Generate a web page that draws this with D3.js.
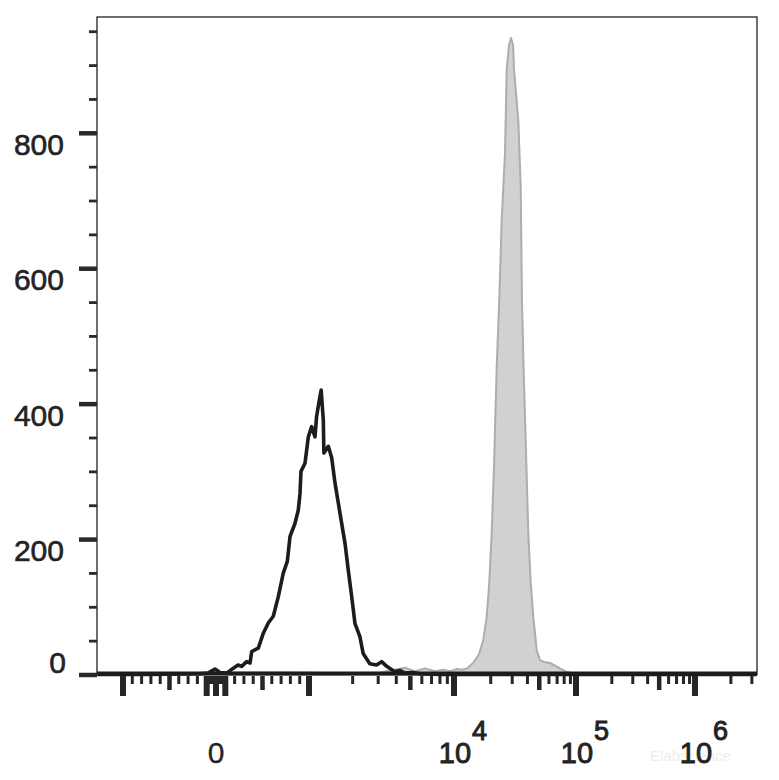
<!DOCTYPE html>
<html>
<head>
<meta charset="utf-8">
<script src="https://cdn.jsdelivr.net/npm/d3@7"></script>
<style>
  html, body { margin: 0; padding: 0; background: #ffffff; }
  svg { display: block; font-family: "Liberation Sans", Arial, sans-serif; }
</style>
</head>
<body>
<svg id="chart" width="779" height="780"></svg>
<script>
// ---------------- data ----------------
// Filled grey histogram: fluorescence intensity vs. count
const grayIntensity = [97, 473, 903, 1640, 3090, 4590, 5380, 6310, 7400, 8400, 9380, 10590, 11640, 12790, 14320, 15140, 16110, 17380, 18530, 19450, 20370, 21270, 22390, 23500, 24600, 26180, 27040, 28250, 29310, 30480, 31050, 33650, 35240, 36060, 37150, 38900, 40640, 42560, 44670, 47640, 50700, 55720, 61240, 67300, 73960, 83950, 92690, 108400];
const grayCount = [3, 3, 3, 2, 3, 10, 5, 9, 5, 7, 5, 8, 7, 9, 17, 23, 31, 51, 85, 135, 209, 307, 455, 553, 671, 770, 893, 930, 940, 930, 893, 819, 720, 553, 455, 332, 209, 135, 85, 36, 21, 18, 17, 13, 9, 4, 2, 0];

// Black outline histogram (control)
const blackIntensity = [-1500, -710, -172, -86, -11, 43, 115, 183, 237, 276, 330, 366, 384, 455, 509, 562, 616, 670, 724, 767, 796, 849, 885, 903, 914, 957, 993, 1043, 1100, 1128, 1167, 1213, 1255, 1267, 1359, 1434, 1511, 1636, 1771, 1866, 1970, 2076, 2244, 2363, 2627, 2920, 3170, 3434, 3910, 4230, 4580, 5200, 5800, 7940, 3300000];
const blackCount = [0, 0, 1, 2, 8, 3, 2, 9, 14, 12, 19, 17, 34, 39, 61, 76, 86, 115, 150, 167, 204, 223, 243, 267, 300, 312, 351, 366, 351, 381, 400, 420, 376, 327, 337, 320, 283, 238, 194, 154, 115, 75, 56, 31, 16, 14, 19, 12, 4, 6, 2, 3, 1, 0, 0];

// Axis ticks
const yMajorTicks = [0, 200, 400, 600, 800];
const yMinorTicks = [50, 100, 150, 250, 300, 350, 450, 500, 550, 650, 700, 750, 850, 900, 950];
const yTickLabels = ["0", "200", "400", "600", "800"];

const xMajorTicks = [-1000, -100, 0, 100, 1000, 10000, 100000, 1000000];
const xMediumTicks = [-500, 500, 5000, 50000, 500000];
const xMinorTicks = [-900, -800, -700, -600, -400, -300, -200,
  -90, -80, -70, -60, -50, -40, -30, -20, -10, 10, 20, 30, 40, 50, 60, 70, 80, 90,
  200, 300, 400, 600, 700, 800, 900,
  2000, 3000, 4000, 6000, 7000, 8000, 9000,
  20000, 30000, 40000, 60000, 70000, 80000, 90000,
  200000, 300000, 400000, 600000, 700000, 800000, 900000,
  2000000, 3000000];
const xLabelValues = [0, 10000, 100000, 1000000];
const xLabelBase = ["0", "10", "10", "10"];
const xLabelExp = ["", "4", "5", "6"];

// ---------------- layout ----------------
const svg = d3.select("#chart");
const L = 97, R = 757, T0 = 17, B = 674.5;
const textColor = "#232323";

// biexponential-like display transform: linear within ±1000, log outside
const LIN = 1000;
function biex(v) {
  const a = Math.abs(v);
  return a <= LIN ? v / LIN : Math.sign(v) * (1 + Math.log10(a / LIN));
}
// display units -> pixels (decades are not all drawn with the same width)
const x = d3.scaleLinear()
  .domain([-1.18, -1, 0, 1, 2, 3, 4, 4.52])
  .range([L, L + 26, L + 119, L + 212, L + 357, L + 479, L + 598, R]);
const xp = v => x(biex(v));

const y = d3.scaleLinear().domain([0, 971]).range([B, T0]);

// ---------------- histograms ----------------
const grayData = grayIntensity.map((v, i) => ({ v, c: grayCount[i] }));
const blackData = blackIntensity.map((v, i) => ({ v, c: blackCount[i] }));

const area = d3.area().x(d => xp(d.v)).y0(y(0)).y1(d => y(d.c));
svg.append("path").datum(grayData)
  .attr("d", area)
  .attr("fill", "#d1d1d1")
  .attr("stroke", "#adadad")
  .attr("stroke-width", 2)
  .attr("stroke-linejoin", "round");

// frame
svg.append("rect")
  .attr("x", L).attr("y", T0)
  .attr("width", R - L).attr("height", B - T0)
  .attr("fill", "none").attr("stroke", "#222").attr("stroke-width", 1.3);

const line = d3.line().x(d => xp(d.v)).y(d => y(d.c));
svg.append("path").datum(blackData)
  .attr("d", line)
  .attr("fill", "none")
  .attr("stroke", "#1c1c1c")
  .attr("stroke-width", 3.6)
  .attr("stroke-linejoin", "round");

// bottom axis line (thick)
svg.append("line")
  .attr("x1", L).attr("x2", R)
  .attr("y1", y(0) - 1).attr("y2", y(0) - 1)
  .attr("stroke", "#1c1c1c").attr("stroke-width", 4);

// ---------------- y axis ----------------
function yAxisTicks(vals, size, width) {
  const g = svg.append("g").attr("transform", `translate(${L},0)`)
    .call(d3.axisLeft(y).tickValues(vals).tickSize(size).tickFormat(""));
  g.select(".domain").remove();
  g.selectAll("line").attr("stroke", "#2a2a2a").attr("stroke-width", width);
}
yAxisTicks(yMinorTicks, 8, 2.8);
yAxisTicks(yMajorTicks, 18, 4.5);

svg.append("g").selectAll("text").data(yMajorTicks).join("text")
  .attr("x", (d, i) => i === 0 ? 66 : 64)
  .attr("y", d => d === 0 ? y(d) - 1.5 : y(d) + 22)
  .attr("text-anchor", "end")
  .attr("fill", textColor)
  .attr("stroke", textColor).attr("stroke-width", 0.6)
  .attr("font-size", 30)
  .text((d, i) => yTickLabels[i]);

// ---------------- x axis ----------------
const tickTop = 676;
function xTicks(vals, len, width) {
  svg.append("g").selectAll("line").data(vals).join("line")
    .attr("x1", d => xp(d)).attr("x2", d => xp(d))
    .attr("y1", tickTop).attr("y2", tickTop + len)
    .attr("stroke", "#262626").attr("stroke-width", width);
}
xTicks(xMinorTicks, 8, 3);
xTicks(xMediumTicks, 14, 4.5);
xTicks(xMajorTicks, 20, 6);

// faint watermark (drawn beneath the labels)
svg.append("text")
  .attr("x", 650).attr("y", 761)
  .attr("fill", "#eeeeee").attr("font-size", 15)
  .text("Elabscience");

const xl = svg.append("g");
xLabelValues.forEach((v, i) => {
  const cx = xp(v);
  xl.append("text")
    .attr("x", cx + (i === 0 ? 0 : 1)).attr("y", 763)
    .attr("text-anchor", "middle")
    .attr("fill", textColor)
    .attr("stroke", textColor).attr("stroke-width", i === 0 ? 0.3 : 0.9)
    .attr("font-size", i === 0 ? 30 : 29)
    .text(xLabelBase[i]);
  if (xLabelExp[i]) {
    xl.append("text")
      .attr("x", cx + 18).attr("y", 740)
      .attr("fill", textColor)
      .attr("stroke", textColor).attr("stroke-width", 1)
      .attr("font-size", 27)
      .text(xLabelExp[i]);
  }
});
</script>
</body>
</html>
